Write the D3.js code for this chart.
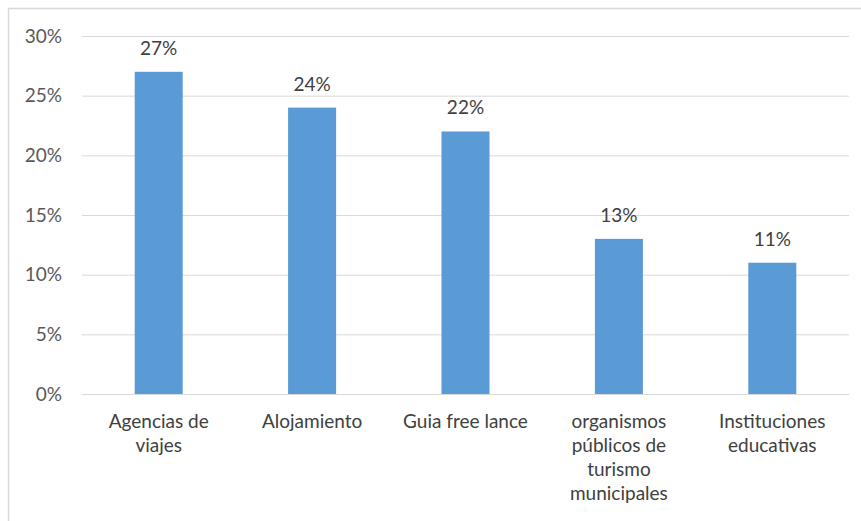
<!DOCTYPE html>
<html><head><meta charset="utf-8">
<script src="https://cdn.jsdelivr.net/npm/d3@7"></script>
<style>body{margin:0;background:#fff}svg{display:block}</style>
</head><body><svg id="c" width="861" height="521"></svg>
<script>
const categories = [["Agencias de","viajes"],["Alojamiento"],["Guia free lance"],["organismos","públicos de","turismo","municipales"],["Instituciones","educativas"]];
const values = [0.27, 0.24, 0.22, 0.13, 0.11];
const yTicks = [0, 0.05, 0.10, 0.15, 0.20, 0.25, 0.30];
(function(){
const font = "Lato, 'Open Sans', sans-serif";

const svg = d3.select("#c");
svg.append("rect").attr("x",8.5).attr("y",8.5).attr("width",900).attr("height",600)
  .attr("fill","#fff").attr("stroke","#d9d9d9").attr("stroke-width",1.5);

const mL = 82, mR = 849, mT = 36, mB = 394;
const x = d3.scaleBand().domain(d3.range(values.length)).range([mL,mR]).padding(0);
const y = d3.scaleLinear().domain([0,0.30]).range([mB,mT]);
const barW = x.bandwidth()*0.313;

const yAxis = d3.axisLeft(y).tickValues(yTicks).tickFormat(d3.format(".0%")).tickSize(-(mR-mL)).tickPadding(20);
const ga = svg.append("g").attr("transform",`translate(${mL},0)`).call(yAxis);
ga.select(".domain").remove();
ga.selectAll("line").attr("stroke","#d9d9d9").attr("stroke-width",1);
ga.selectAll("text").attr("fill","#595959").style("font-family",font).style("font-size","19px");

svg.append("g").selectAll("rect").data(values).join("rect")
  .attr("x",(d,i)=>x(i)+(x.bandwidth()-barW)/2)
  .attr("y",d=>y(d)).attr("width",barW).attr("height",d=>y(0)-y(d))
  .attr("fill","#5b9bd5");

svg.append("g").selectAll("text").data(values).join("text")
  .attr("x",(d,i)=>x(i)+x.bandwidth()/2).attr("y",d=>y(d)-17)
  .attr("text-anchor","middle").attr("fill","#404040")
  .style("font-family",font).style("font-size","19px")
  .text(d=>d3.format(".0%")(d));

const cl = svg.append("g").selectAll("text").data(categories).join("text")
  .attr("x",(d,i)=>x(i)+x.bandwidth()/2).attr("y",428)
  .attr("text-anchor","middle").attr("fill","#404040")
  .style("font-family",font).style("font-size","19px");
cl.each(function(lines,i){
  d3.select(this).selectAll("tspan").data(lines).join("tspan")
    .attr("x",x(i)+x.bandwidth()/2).attr("dy",(d,j)=>j===0?0:24).text(d=>d);
});
})();
</script></body></html>
